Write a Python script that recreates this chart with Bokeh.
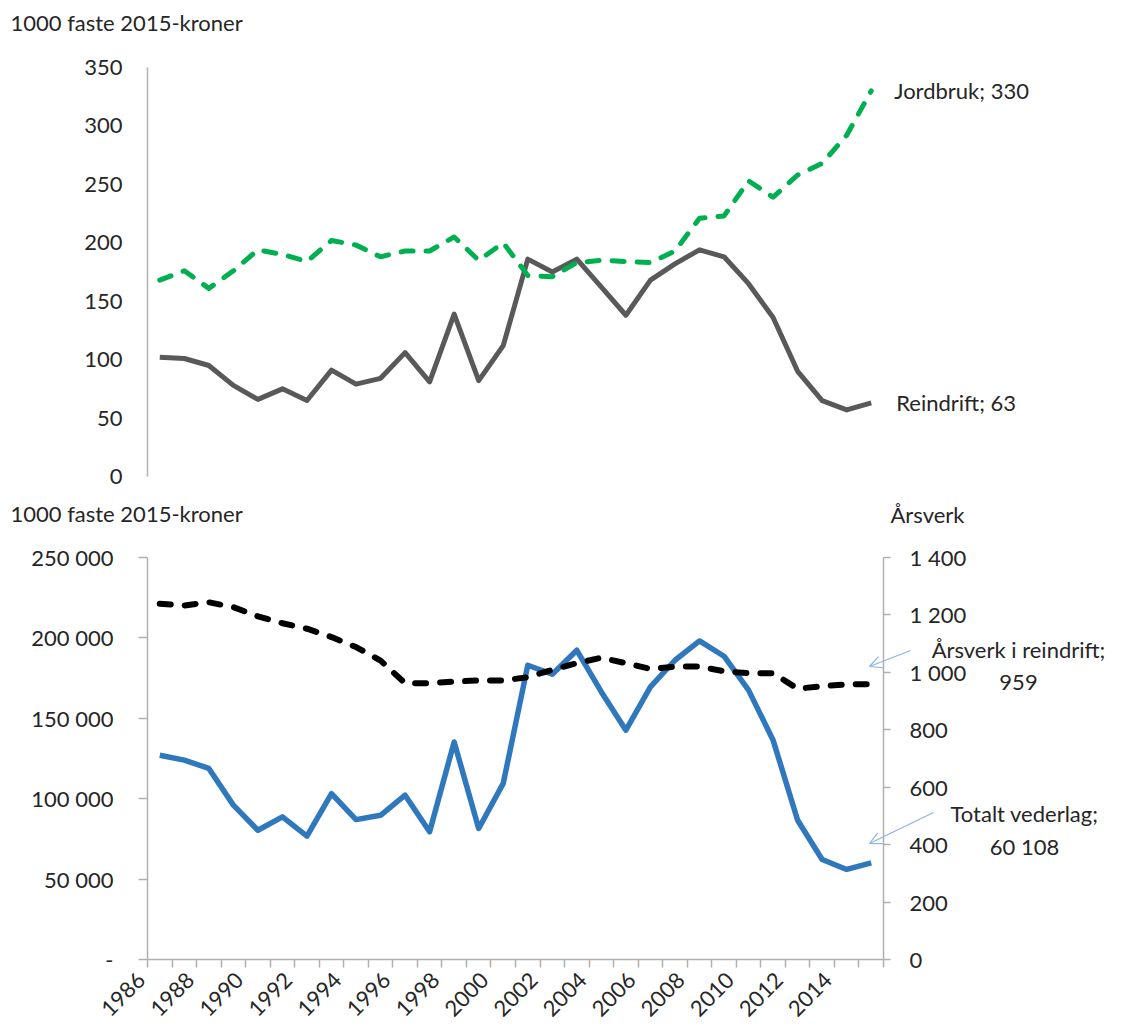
import math
from bokeh.plotting import figure
from bokeh.models import Range1d, LinearAxis, FixedTicker, Label, Arrow, OpenHead
from bokeh.layouts import column
from bokeh.embed import file_html
from bokeh.resources import INLINE

# ---------------- data ----------------
years = list(range(1986, 2016))
jordbruk = [168, 176, 161, 176, 194, 190, 184, 202, 198, 188, 193, 193, 205, 185, 200,
            172, 171, 183, 185, 184, 183, 193, 221, 223, 253, 239, 258, 268, 292, 330]
reindrift = [102, 101, 95, 78, 66, 75, 65, 91, 79, 84, 106, 81, 139, 82, 112,
             186, 175, 186, 162, 138, 168, 182, 194, 188, 165, 136, 90, 65, 57, 63]
totalt_vederlag = [127000, 124000, 118800, 96000, 80400, 88700, 76700, 103200, 87000, 89700,
                   102200, 79400, 135300, 81500, 109500, 183000, 177400, 192300, 166400, 142600,
                   169500, 186100, 198100, 188600, 167500, 136400, 86600, 62200, 56000, 60108]
arsverk = [1239, 1233, 1244, 1227, 1195, 1171, 1152, 1123, 1088, 1041,
           962, 962, 968, 972, 972, 983, 1009, 1032, 1051, 1032,
           1012, 1020, 1020, 1004, 997, 997, 943, 952, 958, 959]

top_ticks = [0, 50, 100, 150, 200, 250, 300, 350]
left_ticks = [0, 50000, 100000, 150000, 200000, 250000]
left_tick_labels = ["-", "50 000", "100 000", "150 000", "200 000", "250 000"]
right_ticks = [0, 200, 400, 600, 800, 1000, 1200, 1400]
right_tick_labels = ["0", "200", "400", "600", "800", "1 000", "1 200", "1 400"]
year_labels = years[::2]

unit_label = "1000 faste 2015-kroner"
right_unit_label = "Årsverk"
jord_label = "Jordbruk; 330"
rein_label = "Reindrift; 63"
ars_label = ["Årsverk i reindrift;", "959"]
tot_label = ["Totalt vederlag;", "60 108"]

# ---------------- style / layout ----------------
FONT = "Lato"
FS = "22px"
TXT = "#262626"
AX = "#b0b0b0"
GREEN = "#00b050"
GRAY = "#595959"
BLUE = "#2f78bd"
ARROW = "#8db3e2"

FIG_W = 1118
H1 = 498           # top figure height
H2 = 530           # bottom figure height
X0, X1 = 147, 883  # plot-area left / right (px)
T_TOP, T_BOT = 67, 476      # top panel: 350 / 0 (px)
B_TOP, B_BOT = 59, 461      # bottom panel (local px): max / 0

x0_val = years[0] - 0.5
x1_val = years[-1] + 0.5
ppy = (X1 - X0) / (x1_val - x0_val)


def tx(px):
    return x0_val + (px - X0) / ppy


u1 = top_ticks[-1] / (T_BOT - T_TOP)
u2 = left_ticks[-1] / (B_BOT - B_TOP)
u3 = right_ticks[-1] / (B_BOT - B_TOP)


def ty(py):
    return (T_BOT - py) * u1


def by(py_page):
    return (H1 + B_BOT - py_page) * u2


x_range = Range1d(tx(0), tx(FIG_W))


def base(fig):
    fig.xgrid.grid_line_color = None
    fig.ygrid.grid_line_color = None
    fig.outline_line_color = None
    fig.background_fill_color = "white"
    fig.border_fill_color = "white"


def style_axis(ax, tick_out, standoff):
    ax.axis_line_color = AX
    ax.axis_line_width = 1.5
    ax.major_tick_line_color = AX
    ax.major_tick_line_width = 1.5
    ax.major_tick_out = tick_out
    ax.major_tick_in = 0
    ax.minor_tick_line_color = None
    ax.major_label_text_font = FONT
    ax.major_label_text_font_size = FS
    ax.major_label_text_color = TXT
    ax.major_label_standoff = standoff


def lab(fig, x, y, text, align="left", x_offset=0):
    fig.add_layout(Label(x=x, y=y, text=text, text_font=FONT, text_font_size=FS,
                         text_color=TXT, text_align=align, text_baseline="middle",
                         x_offset=x_offset))


# ---------------- top panel ----------------
p1 = figure(width=FIG_W, height=H1, x_range=x_range,
            y_range=Range1d(ty(H1), ty(0)),
            output_backend="svg", toolbar_location=None, x_axis_location=None,
            min_border=0)
base(p1)
ya = p1.yaxis[0]
ya.ticker = FixedTicker(ticks=top_ticks)
ya.fixed_location = x0_val
ya.bounds = (top_ticks[0], top_ticks[-1])
style_axis(ya, 0, 25)

p1.line(years, reindrift, line_color=GRAY, line_width=5, line_join="round")
p1.line(years, jordbruk, line_color=GREEN, line_width=5, line_dash="12 13",
        line_cap="round", line_join="round")

lab(p1, tx(10), ty(22), unit_label)
lab(p1, years[-1], jordbruk[-1], jord_label, x_offset=23)
lab(p1, years[-1], reindrift[-1], rein_label, x_offset=25)

# ---------------- bottom panel ----------------
p2 = figure(width=FIG_W, height=H2, x_range=x_range,
            y_range=Range1d(-(H2 - B_BOT) * u2, left_ticks[-1] + B_TOP * u2),
            output_backend="svg", toolbar_location=None, min_border=0)
base(p2)
p2.extra_y_ranges = {"right": Range1d(-(H2 - B_BOT) * u3, right_ticks[-1] + B_TOP * u3)}

la = p2.yaxis[0]
la.ticker = FixedTicker(ticks=left_ticks)
la.major_label_overrides = {t: s for t, s in zip(left_ticks, left_tick_labels)}
la.fixed_location = x0_val
la.bounds = (left_ticks[0], left_ticks[-1])
style_axis(la, 9, 25)

rax = LinearAxis(y_range_name="right", ticker=FixedTicker(ticks=right_ticks),
                 major_label_overrides={t: s for t, s in zip(right_ticks, right_tick_labels)},
                 fixed_location=x1_val, bounds=(right_ticks[0], right_ticks[-1]))
style_axis(rax, 7, 19)
p2.add_layout(rax, "right")

# year labels sit slightly left of their category, as in the original
shift = 0.75
xax = p2.xaxis[0]
xax.ticker = FixedTicker(ticks=[y - shift for y in year_labels],
                         minor_ticks=[y - 0.5 for y in years] + [x1_val])
xax.major_label_overrides = {y - shift: str(y) for y in year_labels}
xax.fixed_location = 0
xax.bounds = (x0_val, x1_val)
style_axis(xax, 0, 9)
xax.major_tick_line_color = None
xax.minor_tick_line_color = AX
xax.minor_tick_line_width = 1.5
xax.minor_tick_out = 8
xax.minor_tick_in = 0
xax.major_label_orientation = math.pi / 4

p2.line(years, totalt_vederlag, line_color=BLUE, line_width=5.5, line_join="round")
p2.line(years, arsverk, y_range_name="right", line_color="black", line_width=6,
        line_dash="11 14", line_cap="round", line_join="round")

lab(p2, tx(10), by(513), unit_label)
lab(p2, tx(890), by(514), right_unit_label)
lab(p2, tx(1018), by(649), ars_label[0], align="center")
lab(p2, tx(1018), by(682), ars_label[1], align="center")
lab(p2, tx(1024), by(813), tot_label[0], align="center")
lab(p2, tx(1024), by(846), tot_label[1], align="center")

p2.add_layout(Arrow(x_start=tx(910), y_start=by(650), x_end=tx(869), y_end=by(666),
                    line_color=ARROW, line_width=1.2,
                    end=OpenHead(size=12, line_color=ARROW, line_width=1.2)))
p2.add_layout(Arrow(x_start=tx(933), y_start=by(812), x_end=tx(869), y_end=by(843),
                    line_color=ARROW, line_width=1.2,
                    end=OpenHead(size=12, line_color=ARROW, line_width=1.2)))

layout = column(p1, p2)
open("out.html", "w").write(file_html(layout, INLINE))
